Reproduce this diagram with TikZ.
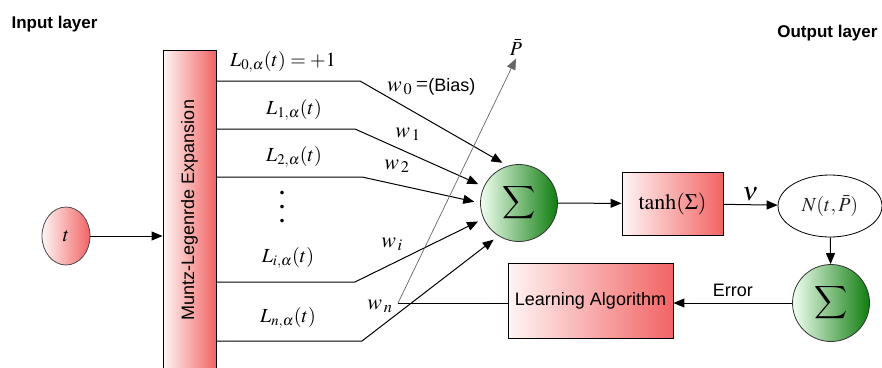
\documentclass[tikz,border=0pt]{standalone}
\usepackage{mathptmx}
\usepackage{fontspec}
\setmainfont{Liberation Serif}
\setsansfont{Liberation Sans}
\usepackage{graphicx}
\usepackage{tikz}
\usetikzlibrary{shapes, arrows, positioning, calc, arrows.meta}

\definecolor{boxred}{RGB}{242,100,100}
\definecolor{sumgreen}{RGB}{16,125,16}

% thin display sum sign
\newcommand{\bigsumsign}{\scalebox{2.3}{\usefont{OMX}{cmex}{m}{n}\char"58}}

\tikzset{
    >={Triangle[length=11pt,width=9pt]},
    every node/.style={font=\fontsize{20}{22}\selectfont},
    sanstext/.style={font=\sffamily\fontsize{18}{20}\selectfont},
    redbox/.style={draw, line width=0.9pt, rectangle, left color=red!4, right color=boxred},
    sumnode/.style={draw=black!80, line width=0.8pt, circle, minimum size=77pt, inner sep=0pt,
        left color=green!6, right color=sumgreen},
    wlabel/.style={inner sep=1pt, font=\fontsize{22}{24}\selectfont},
    link/.style={line width=1pt, black}
}

\begin{document}
\begin{tikzpicture}[x=1pt, y=-1pt]
    \useasboundingbox (0,0) rectangle (882,367);

    % Layer titles
    \node[sanstext, font=\sffamily\bfseries\fontsize{17}{20}\selectfont, anchor=west] (inlayer) at (8,24) {Input layer};
    \node[sanstext, font=\sffamily\bfseries\fontsize{17}{20}\selectfont, anchor=east] (outlayer) at (881,33) {Output layer};

    % Input and expansion
    \node[draw=black!70, line width=0.8pt, ellipse, minimum width=48pt, minimum height=58pt, inner sep=0pt,
          left color=red!4, right color=boxred] (t) at (66,236) {$t$};
    \node[redbox, minimum width=53pt, minimum height=340pt] (exp) at (189.5,220) {};
    \node[sanstext, rotate=90] (exptext) at (189.5,210) {Muntz-Legenrde Expansion};
    \draw[->, link] (t) -- (t -| exp.west);

    % Basis functions
    \node (L0) at (283,62) {$L_{0,\alpha}(t)=+1$};
    \node (L1) at (294,110) {$L_{1,\alpha}(t)$};
    \node (L2) at (294,157) {$L_{2,\alpha}(t)$};
    \node[font=\bfseries\fontsize{22}{14}\selectfont, align=center, inner sep=0pt] (dots) at (282,207) {.\\.\\.};
    \node (Li) at (288,258) {$L_{i,\alpha}(t)$};
    \node (Ln) at (288,318) {$L_{n,\alpha}(t)$};

    % Neuron
    \node[sumnode] (sum1) at (519,203) {\bigsumsign};
    \node[redbox, minimum width=101pt, minimum height=63pt, font=\fontsize{22}{24}\selectfont] (act) at (672.5,203.5) {$\tanh(\Sigma)$};
    \node[draw, line width=0.8pt, ellipse, minimum width=104pt, minimum height=62pt, inner sep=0pt, text=black!85,
          font=\fontsize{20}{22}\selectfont] (net) at (830,206) {$N(t,\bar{P})$};
    \node[sumnode] (sum2) at (831,303) {\bigsumsign};
    \node[redbox, sanstext, minimum width=165pt, minimum height=75pt] (learn) at (590.5,301) {Learning Algorithm};
    \node (pbar) at (516,47) {$\bar{P}$};

    % Weighted inputs
    \foreach \y/\bx/\a [count=\i] in {81/360/107, 129/355/155, 177/362/180, 282/355/204, 341/362/238} {
        \coordinate (bend\i) at (\bx,\y);
        \draw[->, link, shorten >=6pt] (bend\i -| exp.east) -- (bend\i) -- (sum1.\a);
    }
    \node[wlabel, anchor=west] (w0) at (386,87) {$w_{\,0}$\,=\textsf{\fontsize{18}{20}\selectfont(Bias)}};
    \node[wlabel] (w1) at (408,134) {$w_{\,1}$};
    \node[wlabel] (w2) at (397,166) {$w_{\,2}$};
    \node[wlabel] (wi) at (392,244) {$w_{\,i}$};
    \node[wlabel] (wn) at (380,306) {$w_{\,n}$};

    % Learning path
    \coordinate (adj) at (398,303);
    \draw[link] (learn.west |- adj) -- (adj);
    \draw[->, line width=0.7pt, black!60] (adj) -- (pbar.south);
    \draw[->, link] (sum1) -- (act);
    \draw[->, link] (act) -- node[above=0pt, font=\fontsize{26}{26}\selectfont] (nu) {$\nu$} (net);
    \draw[->, link] (net) -- (sum2);
    \draw[->, link] (sum2) -- node[sanstext, above=2pt] (err) {Error} (sum2 -| learn.east);
\end{tikzpicture}
\end{document}
